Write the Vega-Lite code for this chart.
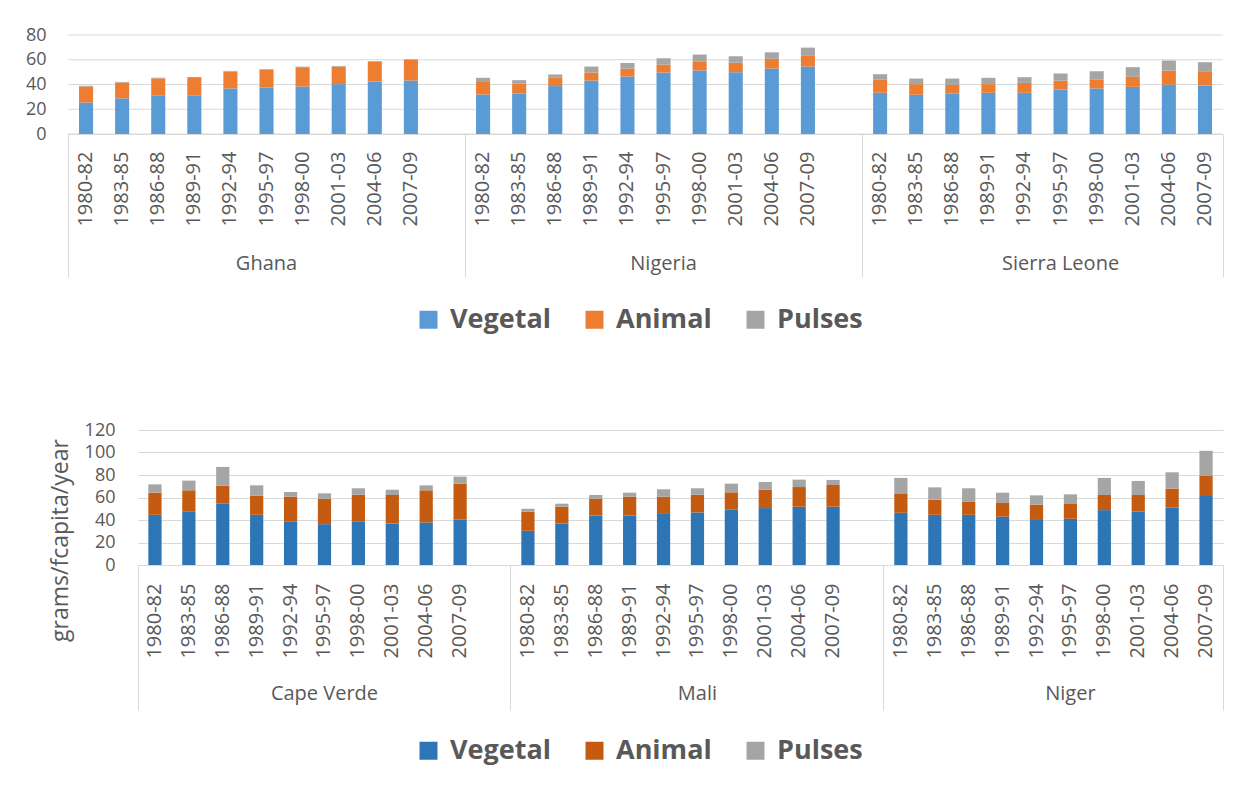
{
  "$schema": "https://vega.github.io/schema/vega-lite/v6.json",
  "background": "white",
  "padding": {"left": 25, "top": 26, "right": 0, "bottom": 12},
  "datasets": {
    "grid": [{"g": 0}, {"g": 20}, {"g": 40}, {"g": 60}, {"g": 80}],
    "top": [
      {"c": "Ghana", "p": "1980-82", "Vegetal": 25.5, "Animal": 12.9, "Pulses": 0.5},
      {"c": "Ghana", "p": "1983-85", "Vegetal": 28.8, "Animal": 12.8, "Pulses": 0.5},
      {"c": "Ghana", "p": "1986-88", "Vegetal": 30.9, "Animal": 14.0, "Pulses": 0.6},
      {"c": "Ghana", "p": "1989-91", "Vegetal": 30.9, "Animal": 14.3, "Pulses": 0.8},
      {"c": "Ghana", "p": "1992-94", "Vegetal": 36.8, "Animal": 13.7, "Pulses": 0.5},
      {"c": "Ghana", "p": "1995-97", "Vegetal": 37.6, "Animal": 14.5, "Pulses": 0.5},
      {"c": "Ghana", "p": "1998-00", "Vegetal": 38.4, "Animal": 15.6, "Pulses": 0.4},
      {"c": "Ghana", "p": "2001-03", "Vegetal": 40.3, "Animal": 14.2, "Pulses": 0.5},
      {"c": "Ghana", "p": "2004-06", "Vegetal": 42.4, "Animal": 15.9, "Pulses": 0.6},
      {"c": "Ghana", "p": "2007-09", "Vegetal": 43.2, "Animal": 16.7, "Pulses": 0.5},
      {"c": "Nigeria", "p": "1980-82", "Vegetal": 31.9, "Animal": 10.8, "Pulses": 2.7},
      {"c": "Nigeria", "p": "1983-85", "Vegetal": 32.8, "Animal": 8.0, "Pulses": 2.7},
      {"c": "Nigeria", "p": "1986-88", "Vegetal": 38.7, "Animal": 6.7, "Pulses": 2.7},
      {"c": "Nigeria", "p": "1989-91", "Vegetal": 43.2, "Animal": 6.5, "Pulses": 4.8},
      {"c": "Nigeria", "p": "1992-94", "Vegetal": 46.4, "Animal": 6.5, "Pulses": 4.5},
      {"c": "Nigeria", "p": "1995-97", "Vegetal": 49.7, "Animal": 6.4, "Pulses": 5.1},
      {"c": "Nigeria", "p": "1998-00", "Vegetal": 51.3, "Animal": 7.0, "Pulses": 5.9},
      {"c": "Nigeria", "p": "2001-03", "Vegetal": 49.9, "Animal": 7.8, "Pulses": 5.1},
      {"c": "Nigeria", "p": "2004-06", "Vegetal": 52.9, "Animal": 7.8, "Pulses": 5.3},
      {"c": "Nigeria", "p": "2007-09", "Vegetal": 54.5, "Animal": 9.1, "Pulses": 6.2},
      {"c": "Sierra Leone", "p": "1980-82", "Vegetal": 33.3, "Animal": 10.5, "Pulses": 4.5},
      {"c": "Sierra Leone", "p": "1983-85", "Vegetal": 31.7, "Animal": 8.6, "Pulses": 4.5},
      {"c": "Sierra Leone", "p": "1986-88", "Vegetal": 32.8, "Animal": 6.9, "Pulses": 5.1},
      {"c": "Sierra Leone", "p": "1989-91", "Vegetal": 33.3, "Animal": 7.0, "Pulses": 5.1},
      {"c": "Sierra Leone", "p": "1992-94", "Vegetal": 33.3, "Animal": 8.0, "Pulses": 4.6},
      {"c": "Sierra Leone", "p": "1995-97", "Vegetal": 36.0, "Animal": 7.2, "Pulses": 5.7},
      {"c": "Sierra Leone", "p": "1998-00", "Vegetal": 36.8, "Animal": 7.0, "Pulses": 6.9},
      {"c": "Sierra Leone", "p": "2001-03", "Vegetal": 38.1, "Animal": 8.1, "Pulses": 7.8},
      {"c": "Sierra Leone", "p": "2004-06", "Vegetal": 39.7, "Animal": 11.6, "Pulses": 8.0},
      {"c": "Sierra Leone", "p": "2007-09", "Vegetal": 39.2, "Animal": 11.5, "Pulses": 7.3}
    ],
    "bottom": [
      {"c": "Cape Verde", "p": "1980-82", "Vegetal": 44.6, "Animal": 19.7, "Pulses": 7.4},
      {"c": "Cape Verde", "p": "1983-85", "Vegetal": 47.3, "Animal": 19.1, "Pulses": 8.6},
      {"c": "Cape Verde", "p": "1986-88", "Vegetal": 54.8, "Animal": 15.7, "Pulses": 16.7},
      {"c": "Cape Verde", "p": "1989-91", "Vegetal": 44.6, "Animal": 17.0, "Pulses": 9.2},
      {"c": "Cape Verde", "p": "1992-94", "Vegetal": 38.4, "Animal": 22.3, "Pulses": 4.2},
      {"c": "Cape Verde", "p": "1995-97", "Vegetal": 36.3, "Animal": 22.6, "Pulses": 4.8},
      {"c": "Cape Verde", "p": "1998-00", "Vegetal": 38.4, "Animal": 24.1, "Pulses": 5.7},
      {"c": "Cape Verde", "p": "2001-03", "Vegetal": 36.9, "Animal": 25.3, "Pulses": 4.8},
      {"c": "Cape Verde", "p": "2004-06", "Vegetal": 37.8, "Animal": 28.6, "Pulses": 4.4},
      {"c": "Cape Verde", "p": "2007-09", "Vegetal": 40.5, "Animal": 31.8, "Pulses": 6.3},
      {"c": "Mali", "p": "1980-82", "Vegetal": 30.4, "Animal": 16.9, "Pulses": 2.7},
      {"c": "Mali", "p": "1983-85", "Vegetal": 36.9, "Animal": 14.9, "Pulses": 2.7},
      {"c": "Mali", "p": "1986-88", "Vegetal": 44.0, "Animal": 14.9, "Pulses": 3.3},
      {"c": "Mali", "p": "1989-91", "Vegetal": 44.0, "Animal": 16.7, "Pulses": 3.6},
      {"c": "Mali", "p": "1992-94", "Vegetal": 46.1, "Animal": 14.6, "Pulses": 6.6},
      {"c": "Mali", "p": "1995-97", "Vegetal": 46.7, "Animal": 15.8, "Pulses": 5.7},
      {"c": "Mali", "p": "1998-00", "Vegetal": 49.1, "Animal": 15.5, "Pulses": 7.7},
      {"c": "Mali", "p": "2001-03", "Vegetal": 50.6, "Animal": 16.4, "Pulses": 6.8},
      {"c": "Mali", "p": "2004-06", "Vegetal": 51.8, "Animal": 17.5, "Pulses": 6.6},
      {"c": "Mali", "p": "2007-09", "Vegetal": 51.8, "Animal": 19.3, "Pulses": 4.5},
      {"c": "Niger", "p": "1980-82", "Vegetal": 46.4, "Animal": 16.7, "Pulses": 14.3},
      {"c": "Niger", "p": "1983-85", "Vegetal": 44.6, "Animal": 13.4, "Pulses": 11.0},
      {"c": "Niger", "p": "1986-88", "Vegetal": 44.6, "Animal": 11.9, "Pulses": 11.7},
      {"c": "Niger", "p": "1989-91", "Vegetal": 42.9, "Animal": 12.2, "Pulses": 9.2},
      {"c": "Niger", "p": "1992-94", "Vegetal": 40.8, "Animal": 12.8, "Pulses": 8.3},
      {"c": "Niger", "p": "1995-97", "Vegetal": 41.1, "Animal": 13.1, "Pulses": 8.6},
      {"c": "Niger", "p": "1998-00", "Vegetal": 48.8, "Animal": 13.4, "Pulses": 15.2},
      {"c": "Niger", "p": "2001-03", "Vegetal": 47.6, "Animal": 14.6, "Pulses": 12.5},
      {"c": "Niger", "p": "2004-06", "Vegetal": 51.2, "Animal": 16.7, "Pulses": 14.5},
      {"c": "Niger", "p": "2007-09", "Vegetal": 61.3, "Animal": 17.9, "Pulses": 22.3}
    ]
  },
  "vconcat": [
    {
      "width": 1085,
      "height": 99,
      "data": {"name": "top"},
      "transform": [
        {"fold": ["Vegetal", "Animal", "Pulses"], "as": ["comp", "val"]},
        {"calculate": "datum.c + '|' + datum.p", "as": "k"},
        {"calculate": "indexof(['Vegetal','Animal','Pulses'], datum.comp)", "as": "o"}
      ],
      "layer": [
        {
          "data": {"name": "grid"},
          "mark": {"type": "rule", "color": "#d9d9d9", "strokeWidth": 1},
          "encoding": {
            "x": {"datum": 0, "type": "quantitative", "scale": {"domain": [0, 1], "range": [-70, 1085], "nice": false, "zero": false}, "axis": null},
            "x2": {"datum": 1},
            "y": {
              "field": "g", "type": "quantitative",
              "axis": {"values": [0, 20, 40, 60, 80], "title": null, "ticks": false, "domain": false, "labelPadding": 22, "offset": 70, "grid": false}
            }
          }
        },
        {
          "mark": {"type": "bar", "width": {"band": 0.39}},
          "encoding": {
            "x": {
              "field": "k", "type": "nominal",
              "scale": {
                "type": "band",
                "domain": ["Ghana|1980-82","Ghana|1983-85","Ghana|1986-88","Ghana|1989-91","Ghana|1992-94","Ghana|1995-97","Ghana|1998-00","Ghana|2001-03","Ghana|2004-06","Ghana|2007-09","gap1",
                           "Nigeria|1980-82","Nigeria|1983-85","Nigeria|1986-88","Nigeria|1989-91","Nigeria|1992-94","Nigeria|1995-97","Nigeria|1998-00","Nigeria|2001-03","Nigeria|2004-06","Nigeria|2007-09","gap2",
                           "Sierra Leone|1980-82","Sierra Leone|1983-85","Sierra Leone|1986-88","Sierra Leone|1989-91","Sierra Leone|1992-94","Sierra Leone|1995-97","Sierra Leone|1998-00","Sierra Leone|2001-03","Sierra Leone|2004-06","Sierra Leone|2007-09"],
                "range": [-70, 1085],
                "paddingInner": 0, "paddingOuter": 0
              },
              "axis": {"orient": "bottom", "title": null, "labelExpr": "split(datum.value, '|')[1] || ''", "labelAngle": -90, "ticks": false, "labelPadding": 17, "domain": true, "grid": false, "labelOverlap": false}
            },
            "y": {
              "field": "val", "type": "quantitative", "stack": "zero",
              "scale": {"domain": [0, 80], "nice": false},
              "axis": {"values": [0, 20, 40, 60, 80], "title": null, "ticks": false, "domain": false, "labelPadding": 22, "offset": 70, "grid": false}
            },
            "color": {
              "field": "comp", "type": "nominal",
              "scale": {"domain": ["Vegetal", "Animal", "Pulses"], "range": ["#5B9BD5", "#ED7D31", "#A5A5A5"]},
              "legend": {"orient": "none", "legendX": 277, "legendY": 271, "direction": "horizontal", "title": null}
            },
            "order": {"field": "o", "type": "quantitative"}
          }
        },
        {
          "mark": {"type": "point", "opacity": 0},
          "encoding": {
            "x": {
              "field": "k", "type": "nominal",
              "scale": {
                "type": "band",
                "domain": ["Ghana|1980-82","Ghana|1983-85","Ghana|1986-88","Ghana|1989-91","Ghana|1992-94","Ghana|1995-97","Ghana|1998-00","Ghana|2001-03","Ghana|2004-06","Ghana|2007-09","gap1",
                           "Nigeria|1980-82","Nigeria|1983-85","Nigeria|1986-88","Nigeria|1989-91","Nigeria|1992-94","Nigeria|1995-97","Nigeria|1998-00","Nigeria|2001-03","Nigeria|2004-06","Nigeria|2007-09","gap2",
                           "Sierra Leone|1980-82","Sierra Leone|1983-85","Sierra Leone|1986-88","Sierra Leone|1989-91","Sierra Leone|1992-94","Sierra Leone|1995-97","Sierra Leone|1998-00","Sierra Leone|2001-03","Sierra Leone|2004-06","Sierra Leone|2007-09"],
                "range": [-70, 1085],
                "paddingInner": 0, "paddingOuter": 0
              },
              "axis": {"orient": "bottom", "title": null, "values": ["Ghana|1980-82","Ghana|1995-97","Nigeria|1980-82","Nigeria|1995-97","Sierra Leone|1980-82","Sierra Leone|1995-97"],
                       "bandPosition": 0, "tickSize": 143,
                       "tickColor": {"condition": {"test": "indexof(datum.value, '1980-82') >= 0", "value": "#d9d9d9"}, "value": "transparent"},
                       "labelExpr": "indexof(datum.value, '1995-97') >= 0 ? split(datum.value, '|')[0] : ''",
                       "labelAngle": 0, "labelPadding": -24, "domain": false, "grid": false, "labelOverlap": false}
            },
            "y": {
              "field": "val", "type": "quantitative",
              "axis": {"values": [0, 20, 40, 60, 80], "title": null, "ticks": false, "domain": false, "labelPadding": 22, "offset": 70, "grid": false}
            }
          }
        },
        {
          "mark": {"type": "point", "opacity": 0},
          "encoding": {
            "x": {
              "field": "k", "type": "nominal",
              "scale": {
                "type": "band",
                "domain": ["Ghana|1980-82","Ghana|1983-85","Ghana|1986-88","Ghana|1989-91","Ghana|1992-94","Ghana|1995-97","Ghana|1998-00","Ghana|2001-03","Ghana|2004-06","Ghana|2007-09","gap1",
                           "Nigeria|1980-82","Nigeria|1983-85","Nigeria|1986-88","Nigeria|1989-91","Nigeria|1992-94","Nigeria|1995-97","Nigeria|1998-00","Nigeria|2001-03","Nigeria|2004-06","Nigeria|2007-09","gap2",
                           "Sierra Leone|1980-82","Sierra Leone|1983-85","Sierra Leone|1986-88","Sierra Leone|1989-91","Sierra Leone|1992-94","Sierra Leone|1995-97","Sierra Leone|1998-00","Sierra Leone|2001-03","Sierra Leone|2004-06","Sierra Leone|2007-09"],
                "range": [-70, 1085],
                "paddingInner": 0, "paddingOuter": 0
              },
              "axis": {"orient": "bottom", "title": null, "values": ["Sierra Leone|2007-09"], "bandPosition": 1, "tickSize": 143, "labels": false, "domain": false, "grid": false}
            },
            "y": {
              "field": "val", "type": "quantitative",
              "axis": {"values": [0, 20, 40, 60, 80], "title": null, "ticks": false, "domain": false, "labelPadding": 22, "offset": 70, "grid": false}
            }
          }
        }
      ],
      "resolve": {"scale": {"x": "independent"}, "axis": {"x": "independent"}}
    },
    {
      "width": 1085,
      "height": 135,
      "data": {"name": "bottom"},
      "transform": [
        {"fold": ["Vegetal", "Animal", "Pulses"], "as": ["comp", "val"]},
        {"calculate": "datum.c + '|' + datum.p", "as": "k"},
        {"calculate": "indexof(['Vegetal','Animal','Pulses'], datum.comp)", "as": "o"}
      ],
      "layer": [
        {
          "mark": {"type": "bar", "width": {"band": 0.39}},
          "encoding": {
            "x": {
              "field": "k", "type": "nominal",
              "scale": {
                "domain": ["Cape Verde|1980-82","Cape Verde|1983-85","Cape Verde|1986-88","Cape Verde|1989-91","Cape Verde|1992-94","Cape Verde|1995-97","Cape Verde|1998-00","Cape Verde|2001-03","Cape Verde|2004-06","Cape Verde|2007-09","gap1",
                           "Mali|1980-82","Mali|1983-85","Mali|1986-88","Mali|1989-91","Mali|1992-94","Mali|1995-97","Mali|1998-00","Mali|2001-03","Mali|2004-06","Mali|2007-09","gap2",
                           "Niger|1980-82","Niger|1983-85","Niger|1986-88","Niger|1989-91","Niger|1992-94","Niger|1995-97","Niger|1998-00","Niger|2001-03","Niger|2004-06","Niger|2007-09"],
                "paddingInner": 0, "paddingOuter": 0
              },
              "axis": {"orient": "bottom", "title": null, "labelExpr": "split(datum.value, '|')[1] || ''", "labelAngle": -90, "ticks": false, "labelPadding": 18, "domain": true, "grid": false, "labelOverlap": false}
            },
            "y": {
              "field": "val", "type": "quantitative", "stack": "zero",
              "scale": {"domain": [0, 120], "nice": false},
              "axis": {"values": [0, 20, 40, 60, 80, 100, 120], "title": "grams/fcapita/year", "titleFontSize": 23,
                       "titleX": -78, "titleY": 110, "titleBaseline": "middle",
                       "ticks": false, "labelPadding": 23, "domain": false, "grid": true}
            },
            "color": {
              "field": "comp", "type": "nominal",
              "scale": {"domain": ["Vegetal", "Animal", "Pulses"], "range": ["#2E75B6", "#C55A11", "#A5A5A5"]},
              "legend": {"orient": "none", "legendX": 277, "legendY": 307, "direction": "horizontal", "title": null}
            },
            "order": {"field": "o", "type": "quantitative"}
          }
        },
        {
          "mark": {"type": "point", "opacity": 0},
          "encoding": {
            "x": {
              "field": "k", "type": "nominal",
              "axis": {"orient": "bottom", "title": null, "values": ["Cape Verde|1980-82","Cape Verde|1995-97","Mali|1980-82","Mali|1995-97","Niger|1980-82","Niger|1995-97"],
                       "bandPosition": 0, "tickSize": 145,
                       "tickColor": {"condition": {"test": "indexof(datum.value, '1980-82') >= 0", "value": "#d9d9d9"}, "value": "transparent"},
                       "labelExpr": "indexof(datum.value, '1995-97') >= 0 ? split(datum.value, '|')[0] : ''",
                       "labelAngle": 0, "labelPadding": -27, "domain": false, "grid": false, "labelOverlap": false}
            },
            "y": {
              "field": "val", "type": "quantitative",
              "axis": {"values": [0, 20, 40, 60, 80, 100, 120], "title": "grams/fcapita/year", "titleFontSize": 23,
                       "titleX": -78, "titleY": 110, "titleBaseline": "middle",
                       "ticks": false, "labelPadding": 23, "domain": false, "grid": true}
            }
          }
        },
        {
          "mark": {"type": "point", "opacity": 0},
          "encoding": {
            "x": {
              "field": "k", "type": "nominal",
              "axis": {"orient": "bottom", "title": null, "values": ["Niger|2007-09"], "bandPosition": 1, "tickSize": 145, "labels": false, "domain": false, "grid": false}
            },
            "y": {
              "field": "val", "type": "quantitative",
              "axis": {"values": [0, 20, 40, 60, 80, 100, 120], "title": "grams/fcapita/year", "titleFontSize": 23,
                       "titleX": -78, "titleY": 110, "titleBaseline": "middle",
                       "ticks": false, "labelPadding": 23, "domain": false, "grid": true}
            }
          }
        }
      ],
      "resolve": {"axis": {"x": "independent"}}
    }
  ],
  "spacing": 88,
  "resolve": {"scale": {"color": "independent"}},
  "config": {
    "view": {"stroke": null},
    "axis": {
      "labelFont": "Open Sans", "labelFontSize": 20, "labelColor": "#595959",
      "titleFont": "Open Sans", "titleColor": "#595959", "titleFontWeight": "normal",
      "gridColor": "#d9d9d9", "gridWidth": 1, "domainColor": "#d9d9d9", "tickColor": "#d9d9d9"
    },
    "axisY": {"labelFontSize": 18},
    "legend": {
      "labelFont": "Open Sans", "labelFontSize": 27, "labelFontWeight": "bold", "labelColor": "#595959",
      "symbolType": "square", "symbolSize": 324, "symbolStrokeWidth": 0, "symbolOpacity": 1,
      "labelOffset": 8, "columnPadding": 30, "padding": 0
    }
  }
}
